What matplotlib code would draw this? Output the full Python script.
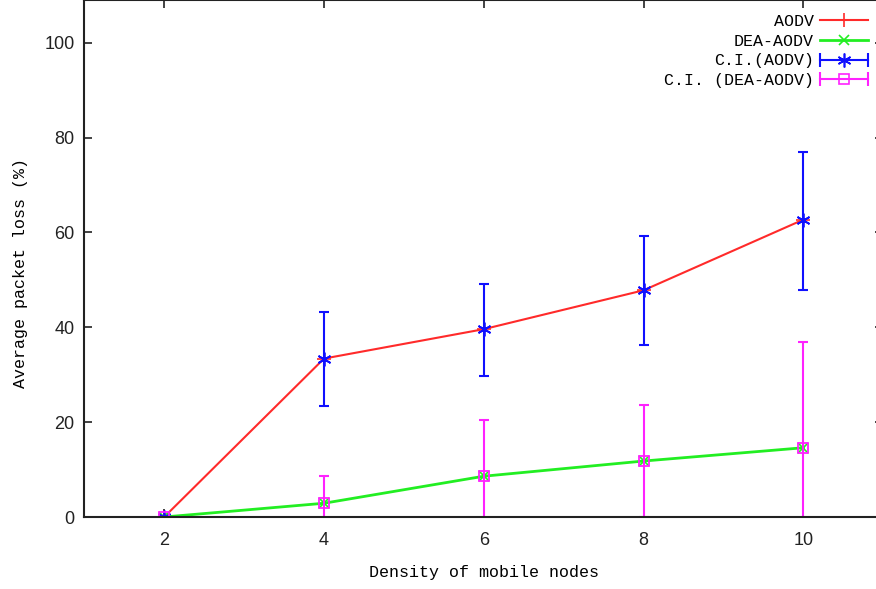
import matplotlib.pyplot as plt
import numpy as np
from matplotlib.legend_handler import HandlerBase
from matplotlib.lines import Line2D

# Data
density = [2, 4, 6, 8, 10]
aodv = [0, 33.4, 39.6, 47.8, 62.7]
aodv_ci_low = [0, 23.4, 29.7, 36.3, 47.9]
aodv_ci_high = [0, 43.2, 49.1, 59.3, 77.0]
dea_aodv = [0, 2.9, 8.6, 11.8, 14.6]
dea_ci_low = [0, -2.8, -3.2, -0.1, -7.8]
dea_ci_high = [0, 8.6, 20.4, 23.7, 37.0]

plt.rcParams['font.family'] = ['Liberation Mono', 'DejaVu Sans Mono']
tick_font = ['Liberation Sans', 'DejaVu Sans']


class CapHandler(HandlerBase):
    # gnuplot style key sample: horizontal bar with end caps and a point
    def create_artists(self, legend, orig, xd, yd, w, h, fontsize, trans):
        x0, x1 = -xd, -xd + w
        y = (h - yd) / 2
        col = orig.get_color()
        line = Line2D([x0, x1], [y, y], color=col, lw=1.5, transform=trans)
        caps = Line2D([x0, x1], [y, y], ls='none', marker='|', ms=10,
                      mew=1.5, color=col, transform=trans)
        pt = Line2D([(x0 + x1) / 2], [y], ls='none', marker=orig.get_marker(),
                    ms=orig.get_markersize(), mew=1.2, color=col,
                    mfc='none', transform=trans)
        return [line, caps, pt]


fig = plt.figure(figsize=(8.76, 5.89), dpi=100)
ax = fig.add_axes([84.3 / 876, 72 / 589, 799 / 876, 517 / 589])

x = np.array(density)
l1, = ax.plot(x, aodv, color='#ff2a2a', lw=1.5, marker='+', ms=10, mew=1.2,
              label='AODV')
l2, = ax.plot(x, dea_aodv, color='#22ee22', lw=2, marker='x', ms=7, mew=1.2,
              label='DEA-AODV')

a = np.array(aodv)
ax.errorbar(x, a, yerr=[a - np.array(aodv_ci_low), np.array(aodv_ci_high) - a],
            fmt='none', ecolor='#1010ff', elinewidth=1.5, capsize=3.5,
            capthick=1.5)
ax.plot(x, a, ls='none', marker=(6, 2, 0), ms=10, mew=1.3, color='#1010ff')
d = np.array(dea_aodv)
ax.errorbar(x, d, yerr=[d - np.array(dea_ci_low), np.array(dea_ci_high) - d],
            fmt='none', ecolor='#ff22ff', elinewidth=1.5, capsize=3.5,
            capthick=1.5)
ax.plot(x, d, ls='none', marker='s', ms=7, mew=1.3, mfc='none', color='#ff22ff')

h3 = Line2D([], [], color='#1010ff', marker=(6, 2, 0), ms=10)
h4 = Line2D([], [], color='#ff22ff', marker='s', ms=7)

ax.set_xlim(1, 11)
ax.set_ylim(0, 109)
ax.set_xticks(density)
ax.set_yticks([0, 20, 40, 60, 80, 100])
ax.tick_params(direction='in', length=6, width=1.2, top=True, right=True,
               labelsize=13, pad=7, colors='#222222')
ax.tick_params(axis='x', pad=11)
for lab in ax.get_xticklabels() + ax.get_yticklabels():
    lab.set_family(tick_font)
for s in ax.spines.values():
    s.set_linewidth(1.5)
    s.set_color('#222222')

ax.set_xlabel('Density of mobile nodes', fontsize=12)
ax.set_ylabel('Average packet loss (%)', fontsize=12)
ax.xaxis.set_label_coords(0.5, -0.093)
ax.yaxis.set_label_coords(-0.07, 0.472)

ax.legend([l1, l2, h3, h4],
          ['AODV', 'DEA-AODV', 'C.I.(AODV)', 'C.I. (DEA-AODV)'],
          handler_map={h3: CapHandler(), h4: CapHandler()},
          loc='upper right', bbox_to_anchor=(868 / 876, 1 - 14 / 589),
          bbox_transform=fig.transFigure, frameon=False, markerfirst=False,
          fontsize=12, handlelength=2.9, handletextpad=0.35, labelspacing=0.28,
          borderpad=0, borderaxespad=0)

plt.savefig('out.png', dpi=100)
